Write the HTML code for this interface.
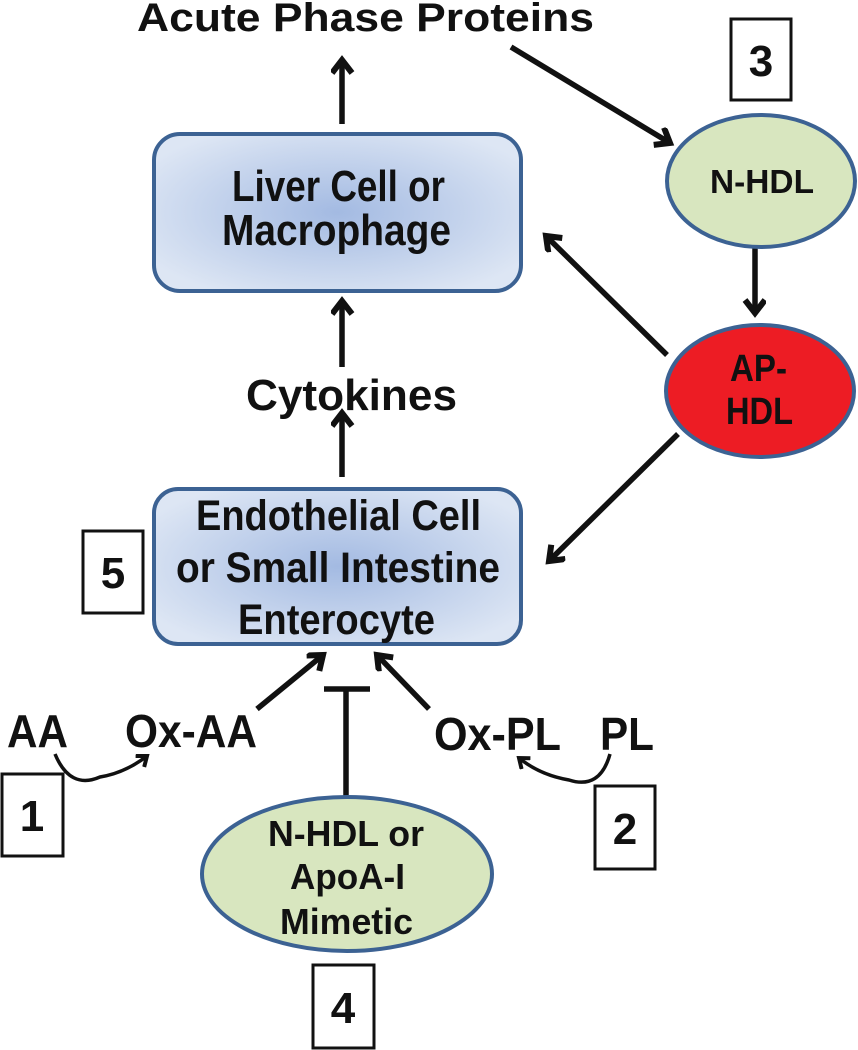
<!DOCTYPE html>
<html><head><meta charset="utf-8"><style>
html,body{margin:0;padding:0;background:#fff;}
svg{display:block;}
text{font-family:"Liberation Sans",Arial,sans-serif;font-weight:bold;fill:#111;}
</style></head><body>
<svg width="858" height="1050" viewBox="0 0 858 1050" xmlns="http://www.w3.org/2000/svg">
<defs>
<radialGradient id="bg" cx="50%" cy="50%" r="60%">
<stop offset="0" stop-color="#a3bae2"/>
<stop offset="1" stop-color="#dde6f4"/>
</radialGradient>
<marker id="ah" markerUnits="userSpaceOnUse" markerWidth="30" markerHeight="30" refX="15" refY="11" orient="auto">
<path d="M2,1 L15,11 L2,21" fill="none" stroke="#111" stroke-width="6" stroke-linejoin="miter"/>
</marker>
<marker id="ahs" markerUnits="userSpaceOnUse" markerWidth="20" markerHeight="20" refX="10" refY="8" orient="auto">
<path d="M1,1 L10,8 L1,15" fill="none" stroke="#111" stroke-width="4"/>
</marker>
</defs>

<text x="137" y="31" font-size="40" textLength="457" lengthAdjust="spacingAndGlyphs">Acute Phase Proteins</text>

<g stroke="#111" stroke-width="5.5" fill="none" marker-end="url(#ah)">
<line x1="342" y1="124" x2="342" y2="60"/>
<line x1="342" y1="367" x2="342" y2="301"/>
<line x1="342" y1="477" x2="342" y2="413"/>
<line x1="511" y1="47" x2="670" y2="143"/>
<line x1="755" y1="248" x2="755" y2="313"/>
<line x1="667" y1="355" x2="546" y2="236"/>
<line x1="678" y1="434" x2="549" y2="561"/>
<line x1="257" y1="709" x2="323" y2="655"/>
<line x1="429" y1="709" x2="377" y2="655"/>
</g>
<g stroke="#111" stroke-width="5.5" fill="none">
<line x1="346" y1="797" x2="346" y2="689"/>
<line x1="324" y1="689" x2="370" y2="689"/>
</g>
<g stroke="#111" stroke-width="3.5" fill="none" marker-end="url(#ahs)">
<path d="M55,754 Q70,790 100,777 Q125,773 147,756"/>
<path d="M610,754 Q600,790 569,780 Q540,775 519,758"/>
</g>

<rect x="154" y="134" width="367" height="157" rx="26" fill="url(#bg)" stroke="#3c6293" stroke-width="4"/>
<text x="232" y="201" font-size="44" textLength="213" lengthAdjust="spacingAndGlyphs">Liver Cell or</text>
<text x="222" y="245" font-size="44" textLength="229" lengthAdjust="spacingAndGlyphs">Macrophage</text>

<text x="246" y="410" font-size="44" textLength="211" lengthAdjust="spacingAndGlyphs">Cytokines</text>

<rect x="154" y="489" width="367" height="155" rx="24" fill="url(#bg)" stroke="#3c6293" stroke-width="4"/>
<text x="196" y="530" font-size="43" textLength="285" lengthAdjust="spacingAndGlyphs">Endothelial Cell</text>
<text x="176" y="582" font-size="43" textLength="324" lengthAdjust="spacingAndGlyphs">or Small Intestine</text>
<text x="238" y="634" font-size="43" textLength="197" lengthAdjust="spacingAndGlyphs">Enterocyte</text>

<ellipse cx="761" cy="181" rx="94" ry="66" fill="#d8e6bf" stroke="#3c6293" stroke-width="4"/>
<text x="710" y="193" font-size="33" textLength="104" lengthAdjust="spacingAndGlyphs">N-HDL</text>

<ellipse cx="760" cy="391" rx="94" ry="66" fill="#ed1c24" stroke="#3c6293" stroke-width="4"/>
<text x="730" y="381" font-size="38" textLength="57" lengthAdjust="spacingAndGlyphs">AP-</text>
<text x="726" y="424" font-size="38" textLength="67" lengthAdjust="spacingAndGlyphs">HDL</text>

<ellipse cx="347" cy="874" rx="145" ry="77" fill="#d8e6bf" stroke="#3c6293" stroke-width="4"/>
<text x="268" y="846" font-size="36" textLength="156" lengthAdjust="spacingAndGlyphs">N-HDL or</text>
<text x="290" y="889" font-size="36" textLength="115" lengthAdjust="spacingAndGlyphs">ApoA-I</text>
<text x="280" y="934" font-size="36" textLength="133" lengthAdjust="spacingAndGlyphs">Mimetic</text>

<text x="7" y="747" font-size="46" textLength="61" lengthAdjust="spacingAndGlyphs">AA</text>
<text x="125" y="747" font-size="46" textLength="132" lengthAdjust="spacingAndGlyphs">Ox-AA</text>
<text x="434" y="750" font-size="46" textLength="127" lengthAdjust="spacingAndGlyphs">Ox-PL</text>
<text x="600" y="750" font-size="46" textLength="54" lengthAdjust="spacingAndGlyphs">PL</text>

<g fill="none" stroke="#111" stroke-width="3">
<rect x="731" y="19" width="60" height="81"/>
<rect x="83" y="531" width="60" height="82"/>
<rect x="2" y="774" width="61" height="82"/>
<rect x="595" y="786" width="60" height="83"/>
<rect x="313" y="965" width="61" height="83"/>
</g>
<g font-size="44">
<text x="761" y="76" text-anchor="middle">3</text>
<text x="113" y="588" text-anchor="middle">5</text>
<text x="32" y="831" text-anchor="middle">1</text>
<text x="625" y="844" text-anchor="middle">2</text>
<text x="343" y="1023" text-anchor="middle">4</text>
</g>
</svg>
</body></html>
